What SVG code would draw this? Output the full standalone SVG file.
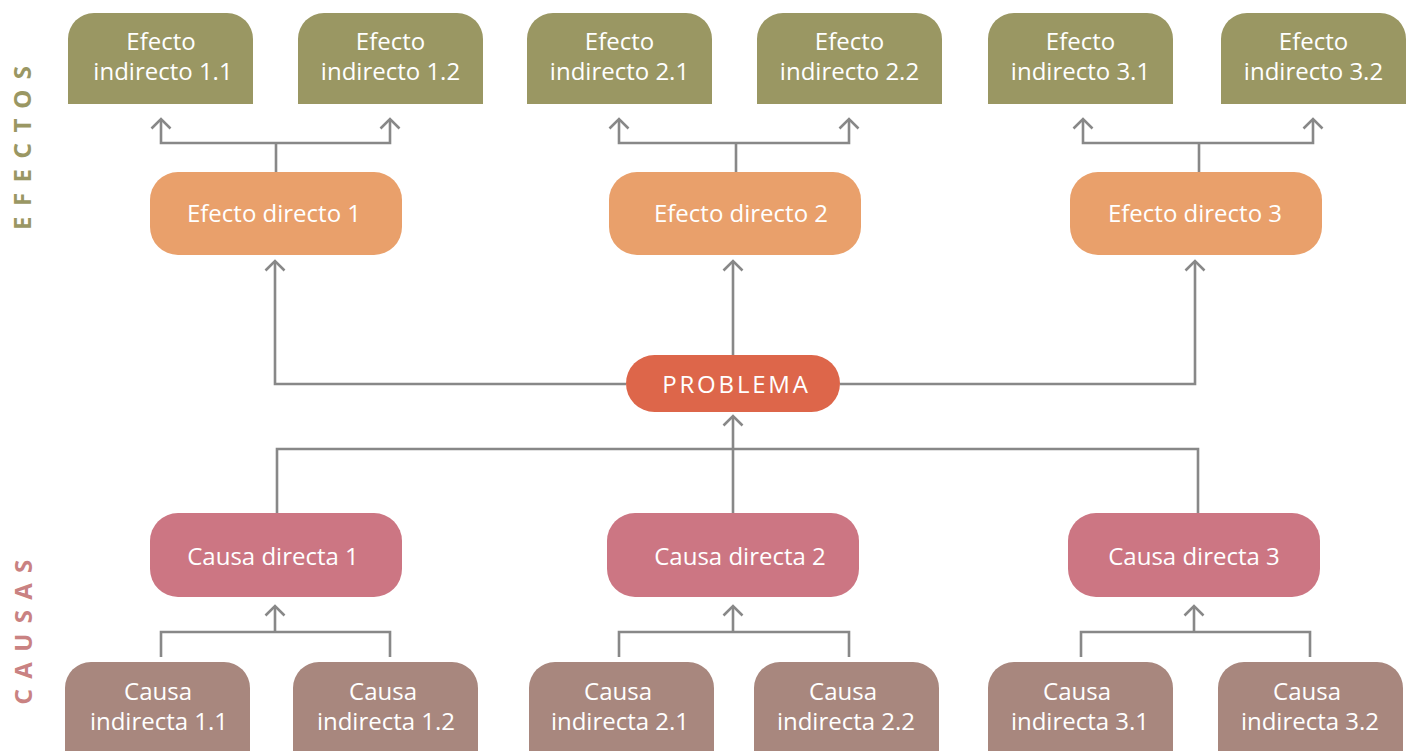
<svg xmlns="http://www.w3.org/2000/svg" width="1411" height="751" viewBox="0 0 1411 751">
<style>
.t{font-family:"Open Sans","Liberation Sans",sans-serif;font-size:24px;fill:#ffffff;text-anchor:middle}
.ei{fill:#9a9763}
.ed{fill:#e9a06b}
.pr{fill:#dd664a}
.cd{fill:#cc7683}
.ci{fill:#a8877e}
.c path{fill:none;stroke:#888888;stroke-width:2.6}
.c path.a{marker-end:url(#arr)}
.side{font-family:"Noto Sans","DejaVu Sans",sans-serif;font-size:24px;font-weight:bold;text-anchor:middle}
</style>
<defs>
<marker id="arr" markerUnits="userSpaceOnUse" viewBox="-12 -12 14 24" markerWidth="14" markerHeight="24" refX="0" refY="0" orient="auto" overflow="visible">
<path d="M-9.5,-9.5 L0,0 L-9.5,9.5" fill="none" stroke="#888888" stroke-width="2.6"/>
</marker>
</defs>
<rect width="1411" height="751" fill="#ffffff"/>

<g id="side-labels">
<text class="side" fill="#9a9763" letter-spacing="10.5" transform="translate(31,148) rotate(-90)" x="5.2">EFECTOS</text>
<text class="side" fill="#c98282" letter-spacing="10.3" transform="translate(32,632) rotate(-90)" x="5.1">CAUSAS</text>
</g>

<g id="connectors" class="c">
<path d="M276,172 V143"/>
<path class="a" d="M276,143 H161 V119"/>
<path class="a" d="M276,143 H390 V119"/>
<path d="M736,172 V143"/>
<path class="a" d="M736,143 H619 V119"/>
<path class="a" d="M736,143 H849 V119"/>
<path d="M1199,172 V143"/>
<path class="a" d="M1199,143 H1083 V119"/>
<path class="a" d="M1199,143 H1313 V119"/>
<path class="a" d="M626,384 H275 V261"/>
<path class="a" d="M733,355 V261"/>
<path class="a" d="M840,384 H1195 V261"/>
<path d="M277,513 V449 H1198 V513"/>
<path class="a" d="M733,513 V416"/>
<path d="M161,657 V632 H390 V657"/>
<path class="a" d="M275,632 V606"/>
<path d="M619,657 V632 H849 V657"/>
<path class="a" d="M733,632 V606"/>
<path d="M1081,657 V632 H1310 V657"/>
<path class="a" d="M1194,632 V606"/>
</g>

<g id="efecto-indirecto-1-1">
<path class="ei" d="M68,104 V39 A26,26 0 0 1 94,13 H227 A26,26 0 0 1 253,39 V104 Z"/>
<text class="t" x="161" y="50">Efecto</text><text class="t" x="163" y="80">indirecto 1.1</text>
</g>
<g id="efecto-indirecto-1-2">
<path class="ei" d="M298,104 V39 A26,26 0 0 1 324,13 H457 A26,26 0 0 1 483,39 V104 Z"/>
<text class="t" x="390.5" y="50">Efecto</text><text class="t" x="390.5" y="80">indirecto 1.2</text>
</g>
<g id="efecto-indirecto-2-1">
<path class="ei" d="M527,104 V39 A26,26 0 0 1 553,13 H686 A26,26 0 0 1 712,39 V104 Z"/>
<text class="t" x="619.5" y="50">Efecto</text><text class="t" x="619.5" y="80">indirecto 2.1</text>
</g>
<g id="efecto-indirecto-2-2">
<path class="ei" d="M757,104 V39 A26,26 0 0 1 783,13 H916 A26,26 0 0 1 942,39 V104 Z"/>
<text class="t" x="849.5" y="50">Efecto</text><text class="t" x="849.5" y="80">indirecto 2.2</text>
</g>
<g id="efecto-indirecto-3-1">
<path class="ei" d="M988,104 V39 A26,26 0 0 1 1014,13 H1147 A26,26 0 0 1 1173,39 V104 Z"/>
<text class="t" x="1080.5" y="50">Efecto</text><text class="t" x="1080.5" y="80">indirecto 3.1</text>
</g>
<g id="efecto-indirecto-3-2">
<path class="ei" d="M1221,104 V39 A26,26 0 0 1 1247,13 H1380 A26,26 0 0 1 1406,39 V104 Z"/>
<text class="t" x="1313.5" y="50">Efecto</text><text class="t" x="1313.5" y="80">indirecto 3.2</text>
</g>

<g id="efecto-directo-1">
<rect class="ed" x="150" y="172" width="252" height="83" rx="28"/>
<text class="t" x="274" y="222">Efecto directo 1</text>
</g>
<g id="efecto-directo-2">
<rect class="ed" x="609" y="172" width="252" height="83" rx="28"/>
<text class="t" x="741" y="222">Efecto directo 2</text>
</g>
<g id="efecto-directo-3">
<rect class="ed" x="1070" y="172" width="252" height="83" rx="28"/>
<text class="t" x="1195" y="222">Efecto directo 3</text>
</g>

<g id="problema">
<rect class="pr" x="626" y="355" width="214" height="57" rx="28.5"/>
<text class="t" x="736.5" y="393" letter-spacing="2.8">PROBLEMA</text>
</g>

<g id="causa-directa-1">
<rect class="cd" x="150" y="513" width="252" height="84" rx="28"/>
<text class="t" x="273" y="565">Causa directa 1</text>
</g>
<g id="causa-directa-2">
<rect class="cd" x="607" y="513" width="252" height="84" rx="28"/>
<text class="t" x="740" y="565">Causa directa 2</text>
</g>
<g id="causa-directa-3">
<rect class="cd" x="1068" y="513" width="252" height="84" rx="28"/>
<text class="t" x="1194" y="565">Causa directa 3</text>
</g>

<g id="causa-indirecta-1-1">
<path class="ci" d="M65,760 V688 A26,26 0 0 1 91,662 H224 A26,26 0 0 1 250,688 V760 Z"/>
<text class="t" x="158" y="700">Causa</text><text class="t" x="159" y="730">indirecta 1.1</text>
</g>
<g id="causa-indirecta-1-2">
<path class="ci" d="M293,760 V688 A26,26 0 0 1 319,662 H452 A26,26 0 0 1 478,688 V760 Z"/>
<text class="t" x="383" y="700">Causa</text><text class="t" x="386" y="730">indirecta 1.2</text>
</g>
<g id="causa-indirecta-2-1">
<path class="ci" d="M529,760 V688 A26,26 0 0 1 555,662 H688 A26,26 0 0 1 714,688 V760 Z"/>
<text class="t" x="618" y="700">Causa</text><text class="t" x="620" y="730">indirecta 2.1</text>
</g>
<g id="causa-indirecta-2-2">
<path class="ci" d="M754,760 V688 A26,26 0 0 1 780,662 H913 A26,26 0 0 1 939,688 V760 Z"/>
<text class="t" x="843" y="700">Causa</text><text class="t" x="846" y="730">indirecta 2.2</text>
</g>
<g id="causa-indirecta-3-1">
<path class="ci" d="M988,760 V688 A26,26 0 0 1 1014,662 H1147 A26,26 0 0 1 1173,688 V760 Z"/>
<text class="t" x="1077" y="700">Causa</text><text class="t" x="1080" y="730">indirecta 3.1</text>
</g>
<g id="causa-indirecta-3-2">
<path class="ci" d="M1218,760 V688 A26,26 0 0 1 1244,662 H1377 A26,26 0 0 1 1403,688 V760 Z"/>
<text class="t" x="1307" y="700">Causa</text><text class="t" x="1310" y="730">indirecta 3.2</text>
</g>
</svg>
